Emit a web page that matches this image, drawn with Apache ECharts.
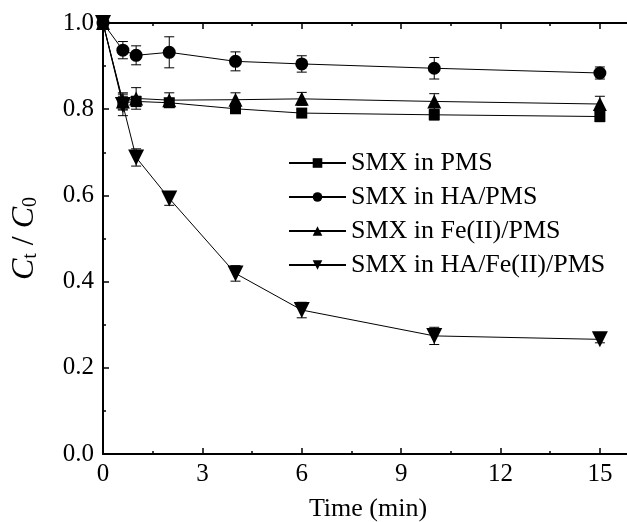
<!DOCTYPE html>
<html>
<head>
<meta charset="utf-8">
<script src="https://cdn.jsdelivr.net/npm/echarts@6/dist/echarts.min.js"></script>
<style>
html,body{margin:0;padding:0;background:#fff;}
#chart{width:627px;height:522px;}
</style>
</head>
<body>
<div id="chart"></div>
<script>
// reaction time (min)
var times = [0, 0.6, 1, 2, 4, 6, 10, 15];
var seriesNames = ['SMX in PMS', 'SMX in HA/PMS', 'SMX in Fe(II)/PMS', 'SMX in HA/Fe(II)/PMS'];
var pmsVals = [1.0, 0.815, 0.818, 0.815, 0.801, 0.791, 0.787, 0.783];
var pmsErr = [0, 0.015, 0.012, 0.010, 0.008, 0.008, 0.012, 0.012];
var haVals = [1.0, 0.937, 0.925, 0.932, 0.911, 0.905, 0.895, 0.884];
var haErr = [0, 0.020, 0.022, 0.036, 0.022, 0.019, 0.025, 0.014];
var feVals = [1.0, 0.818, 0.825, 0.821, 0.822, 0.824, 0.818, 0.812];
var feErr = [0, 0.020, 0.025, 0.017, 0.016, 0.015, 0.018, 0.018];
var haFeVals = [1.0, 0.810, 0.688, 0.593, 0.419, 0.334, 0.274, 0.266];
var haFeErr = [0, 0.025, 0.020, 0.016, 0.018, 0.018, 0.020, 0.008];
var xTicks = [0, 3, 6, 9, 12, 15];
var yTicks = [0.0, 0.2, 0.4, 0.6, 0.8, 1.0];

var font = 'Liberation Serif';
var myChart = echarts.init(document.getElementById('chart'));

function pairs(vals){
	var out = [];
	for(var i=0;i<times.length;i++){
		out.push([times[i], vals[i]]);
	}
	return out;
}
function errData(vals, errs){
	var out = [];
	for(var i=0;i<times.length;i++){
		if(errs[i] > 0) out.push([times[i], vals[i] - errs[i], vals[i] + errs[i]]);
	}
	return out;
}
function errSeries(vals, errs){
	return {
		type: 'custom',
		silent: true,
		z: 1,
		data: errData(vals, errs),
		renderItem: function(params, api){
			var lo = api.coord([api.value(0), api.value(1)]);
			var hi = api.coord([api.value(0), api.value(2)]);
			var w = 5;
			var st = {stroke: '#000', lineWidth: 1};
			return {
				type: 'group',
				children: [
					{type: 'line', shape: {x1: lo[0], y1: lo[1], x2: hi[0], y2: hi[1]}, style: st},
					{type: 'line', shape: {x1: lo[0]-w, y1: lo[1], x2: lo[0]+w, y2: lo[1]}, style: st},
					{type: 'line', shape: {x1: hi[0]-w, y1: hi[1], x2: hi[0]+w, y2: hi[1]}, style: st}
				]
			};
		}
	};
}
function lineSeries(name, vals, symbol, size, rotate){
	return {
		name: name,
		type: 'line',
		data: pairs(vals),
		symbol: symbol,
		symbolSize: size,
		symbolRotate: rotate || 0,
		showAllSymbol: true,
		z: 3,
		lineStyle: {color: '#000', width: 1},
		itemStyle: {color: '#000', borderWidth: 0}
	};
}

option = {
	animation: false,
	backgroundColor: '#fff',
	grid: {left: 103, top: 23, width: 530, height: 431, containLabel: false, outerBoundsMode: 'none'},
	legend: {
		orient: 'vertical',
		left: 283,
		top: 145,
		itemWidth: 57,
		itemHeight: 12,
		itemGap: 8,
		textStyle: {fontFamily: font, fontSize: 26, color: '#000', padding: [0, 0, 0, 0]},
		data: seriesNames
	},
	xAxis: [
		{
			type: 'value',
			min: 0,
			max: 16,
			interval: 3,
			name: 'Time (min)',
			nameLocation: 'middle',
			nameGap: 42,
			nameTextStyle: {fontFamily: font, fontSize: 26, color: '#000'},
			axisLine: {show: true, onZero: false, lineStyle: {color: '#000', width: 2}},
			axisTick: {inside: true, length: 6, lineStyle: {color: '#000', width: 1.5}},
			minorTick: {show: true, splitNumber: 2, length: 3, lineStyle: {color: '#000', width: 1.5}},
			splitLine: {show: false},
			axisLabel: {margin: 8, showMaxLabel: false, formatter: function(v){ return xTicks.indexOf(v) >= 0 ? String(v) : ''; }, fontFamily: font, fontSize: 25, color: '#000'}
		},
		{
			type: 'value',
			position: 'top',
			min: 0,
			max: 16,
			interval: 3,
			axisLine: {show: true, onZero: false, lineStyle: {color: '#000', width: 2}},
			axisTick: {inside: true, length: 6, lineStyle: {color: '#000', width: 1.5}},
			minorTick: {show: true, splitNumber: 2, length: 3, lineStyle: {color: '#000', width: 1.5}},
			splitLine: {show: false},
			axisLabel: {show: false}
		}
	],
	yAxis: [
		{
			type: 'value',
			min: 0,
			max: 1,
			interval: 0.2,
			name: '{i|C}{s|t}{n| / }{i|C}{s|0}',
			nameLocation: 'middle',
			nameGap: 62,
			nameTextStyle: {
				fontFamily: font,
				color: '#000',
				rich: {
					i: {fontFamily: font, fontSize: 32, fontStyle: 'italic', color: '#000'},
					s: {fontFamily: font, fontSize: 20, color: '#000', padding: [13, 0, 0, 0]},
					n: {fontFamily: font, fontSize: 32, color: '#000'}
				}
			},
			axisLine: {show: true, onZero: false, lineStyle: {color: '#000', width: 2}},
			axisTick: {inside: true, length: 6, lineStyle: {color: '#000', width: 1.5}},
			minorTick: {show: true, splitNumber: 2, length: 3, lineStyle: {color: '#000', width: 1.5}},
			splitLine: {show: false},
			axisLabel: {margin: 9, formatter: function(v){ return v.toFixed(1); }, fontFamily: font, fontSize: 25, color: '#000'}
		}
	],
	series: [
		errSeries(pmsVals, pmsErr),
		errSeries(haVals, haErr),
		errSeries(feVals, feErr),
		errSeries(haFeVals, haFeErr),
		lineSeries(seriesNames[0], pmsVals, 'rect', 11),
		lineSeries(seriesNames[1], haVals, 'circle', 13),
		lineSeries(seriesNames[2], feVals, 'triangle', 14),
		lineSeries(seriesNames[3], haFeVals, 'triangle', 16, 180)
	]
};
myChart.setOption(option);
</script>
</body>
</html>
